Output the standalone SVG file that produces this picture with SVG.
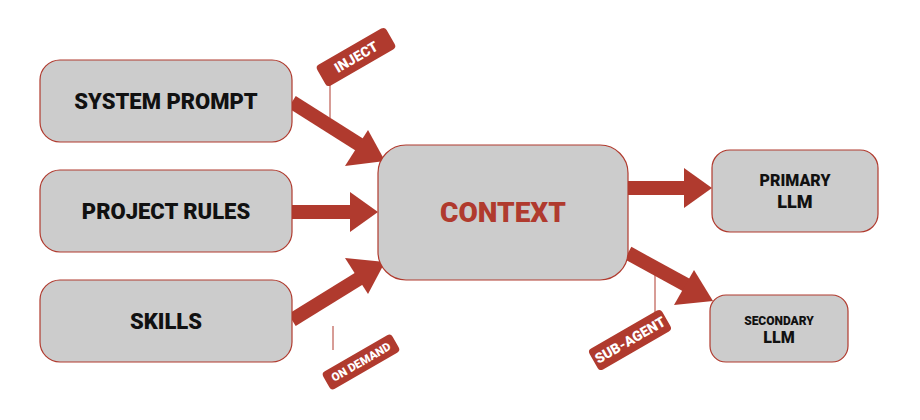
<svg xmlns="http://www.w3.org/2000/svg" width="920" height="420" viewBox="0 0 920 420">
<style>
.box{fill:#cccccc;stroke:#b03a2e;stroke-width:1.2}
.t{font-family:Roboto,"Liberation Sans",sans-serif;font-weight:900;fill:#111;text-anchor:middle}
.arr{stroke:#b03a2e;stroke-width:14;fill:none}
.head{fill:#b03a2e}
.lead{stroke:#b03a2e;stroke-width:1}
.pill{fill:#b03a2e}
.pt{font-family:Roboto,"Liberation Sans",sans-serif;font-weight:900;fill:#fff;text-anchor:middle}
</style>
<rect width="920" height="420" fill="#fff"/>
<g id="connectors">
<line class="lead" x1="330" y1="82" x2="330" y2="118"/>
<line class="lead" x1="333" y1="326" x2="333" y2="350"/>
<line class="lead" x1="655" y1="274" x2="655" y2="318"/>
<line class="arr" x1="292" y1="102" x2="360" y2="145"/>
<polygon class="head" points="385,161 345,166 368,130"/>
<line class="arr" x1="292" y1="212" x2="352" y2="212"/>
<polygon class="head" points="378,212 350,192 350,232"/>
<line class="arr" x1="292" y1="320" x2="360" y2="278"/>
<polygon class="head" points="385,262 368,294 345,258"/>
<line class="arr" x1="628" y1="188" x2="685" y2="188"/>
<polygon class="head" points="712,188 684,168 684,208"/>
<line class="arr" x1="628" y1="253" x2="690" y2="287"/>
<polygon class="head" points="713,301 674,305 694,270"/>
</g>
<g id="inject"><g transform="translate(356,57) rotate(-30)"><rect class="pill" x="-40" y="-12" width="80" height="24" rx="4"/><text class="pt" y="5" font-size="14">INJECT</text></g></g>
<g id="ondemand"><g transform="translate(361,362) rotate(-30)"><rect class="pill" x="-40" y="-10" width="80" height="20" rx="4"/><text class="pt" y="4" font-size="11.5">ON DEMAND</text></g></g>
<g id="subagent"><g transform="translate(630,340) rotate(-30)"><rect class="pill" x="-42" y="-12" width="84" height="24" rx="4"/><text class="pt" y="5" font-size="14">SUB-AGENT</text></g></g>
<g id="system"><rect class="box" x="40" y="60" width="252" height="82" rx="20"/><text class="t" x="166" y="109" font-size="22">SYSTEM PROMPT</text></g>
<g id="rules"><rect class="box" x="40" y="170" width="252" height="82" rx="20"/><text class="t" x="166" y="219" font-size="22">PROJECT RULES</text></g>
<g id="skills"><rect class="box" x="40" y="280" width="252" height="82" rx="20"/><text class="t" x="166" y="329" font-size="22">SKILLS</text></g>
<g id="context"><rect class="box" x="378" y="145" width="250" height="135" rx="28"/><text class="t" x="503" y="222" font-size="28" style="fill:#b03a2e">CONTEXT</text></g>
<g id="primary"><rect class="box" x="712" y="150" width="166" height="82" rx="18"/><text class="t" x="795" y="186" font-size="16">PRIMARY</text><text class="t" x="795" y="208" font-size="18">LLM</text></g>
<g id="secondary"><rect class="box" x="710" y="295" width="138" height="67" rx="16"/><text class="t" x="779" y="325" font-size="12">SECONDARY</text><text class="t" x="779" y="343" font-size="16">LLM</text></g>
</svg>
